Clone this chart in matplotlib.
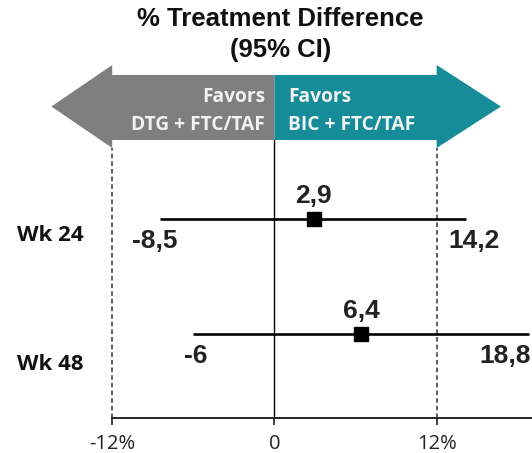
import matplotlib
matplotlib.use('Agg')
import matplotlib.pyplot as plt
from matplotlib.patches import Polygon
import matplotlib.transforms as mtransforms

### Data:
rowLabels = ['Wk 24', 'Wk 48']
pointEstimates = [2.9, 6.4]
lowerCI = [-8.5, -6.0]
upperCI = [14.2, 18.8]
tickValues = [-12, 0, 12]
tickLabels = ['-12%', '0', '12%']

# Label placement tweaks (pixels), to follow the hand-placed labels of the original:
lowDx = [-5, 2]
highDx = [8, -23]
rowLabelDy = [22, 36]

# Figure set-up (dpi 100 so that 1 px = 0.72 pt):
DPI = 100
W, H = 532, 453
PX = 72.0 / DPI
AXIS_Y = 418.3  # px from top

fig = plt.figure(figsize=(W / DPI, H / DPI), dpi=DPI)
ax = fig.add_axes([0, (H - AXIS_Y) / H, 1, AXIS_Y / H])
ax.set_xlim(-20.3, 19.05)
ax.set_ylim(1.736, -1.902)

# Colors:
GRAY = '#7f7f7f'
TEAL = '#158c98'
NUM_FONT = 'Liberation Sans'
TXT_FONT = 'Open Sans'

# Blended transform: x in data, y in axes fraction
trans = mtransforms.blended_transform_factory(ax.transData, ax.transAxes)

def yFrac(px):
    return (AXIS_Y - px) / AXIS_Y

headTop, bodyTop, mid, bodyBot, headBot = yFrac(65), yFrac(75), yFrac(106.5), yFrac(140), yFrac(148)

# Arrows:
leftArrow = Polygon([(0, bodyTop), (-12, bodyTop), (-12, headTop), (-16.5, mid),
                     (-12, headBot), (-12, bodyBot), (0, bodyBot)],
                    closed=True, facecolor=GRAY, edgecolor='none', transform=trans)
rightArrow = Polygon([(0, bodyTop), (12, bodyTop), (12, headTop), (16.75, mid),
                      (12, headBot), (12, bodyBot), (0, bodyBot)],
                     closed=True, facecolor=TEAL, edgecolor='none', transform=trans)
ax.add_patch(leftArrow)
ax.add_patch(rightArrow)

# Arrow texts:
arrowTextStyle = dict(transform=trans, va='center', color='#f2f2f2', fontsize=13.8,
                      fontfamily=TXT_FONT, fontweight='bold')
ax.text(-0.7, yFrac(97), 'Favors', ha='right', **arrowTextStyle)
ax.text(-0.7, yFrac(125.5), 'DTG + FTC/TAF', ha='right', **arrowTextStyle)
ax.text(1.0, yFrac(97), 'Favors', ha='left', **arrowTextStyle)
ax.text(1.0, yFrac(125.5), 'BIC + FTC/TAF', ha='left', **arrowTextStyle)

# Reference lines:
ax.plot([0, 0], [0, bodyBot], transform=trans, color='black', lw=1.0)
for eachX in [-12, 12]:
    ax.plot([eachX, eachX], [0, headBot], transform=trans, color='#333333',
            lw=1.1, linestyle=(0, (3, 2)))

# CI lines + squares + labels:
for i, eachLabel in enumerate(rowLabels):
    ax.plot([lowerCI[i], upperCI[i]], [i, i], color='black', lw=1.9, solid_capstyle='butt', zorder=3)
    ax.plot(pointEstimates[i], i, marker='s', markersize=9.4, color='black', zorder=4)

    ax.annotate(f'{pointEstimates[i]:.1f}'.replace('.', ','), (pointEstimates[i], i),
                xytext=(0, 15.5 * PX), textcoords='offset points', ha='center', va='baseline',
                fontsize=19, fontweight='bold', fontfamily=NUM_FONT, color='#222222')
    ax.annotate(f'{lowerCI[i]:g}'.replace('.', ','), (lowerCI[i], i),
                xytext=(lowDx[i] * PX, -29 * PX), textcoords='offset points', ha='center', va='baseline',
                fontsize=19, fontweight='bold', fontfamily=NUM_FONT, color='#222222')
    ax.annotate(f'{upperCI[i]:g}'.replace('.', ','), (upperCI[i], i),
                xytext=(highDx[i] * PX, -29 * PX), textcoords='offset points', ha='center', va='baseline',
                fontsize=19, fontweight='bold', fontfamily=NUM_FONT, color='#222222')

    # Row label:
    ax.annotate(eachLabel, (16.7 / W, i), xycoords=('figure fraction', 'data'),
                xytext=(0, -rowLabelDy[i] * PX), textcoords='offset points', ha='left', va='baseline',
                fontsize=16, fontweight='bold', fontfamily=TXT_FONT, color='#111111')

# Axis:
for eachSpine in ['top', 'right', 'left']:
    ax.spines[eachSpine].set_visible(False)
ax.spines['bottom'].set_bounds(-12, 19.05)
ax.spines['bottom'].set_linewidth(1.4)
ax.spines['bottom'].set_color('#222222')
ax.set_yticks([])
ax.set_xticks(tickValues)
ax.set_xticklabels(tickLabels, fontsize=14.5, fontfamily=TXT_FONT, color='#222222')
ax.tick_params(axis='x', direction='out', length=5, width=1.2, color='#222222', pad=6)
ax.patch.set_alpha(0)

# Title:
fig.text(280.7 / W, 1 - 19.5 / H, '% Treatment Difference', ha='center', va='center',
         fontsize=18.5, fontweight='bold', fontfamily=NUM_FONT, color='#111111')
fig.text(280.7 / W, 1 - 50 / H, '(95% CI)', ha='center', va='center',
         fontsize=18.5, fontweight='bold', fontfamily=NUM_FONT, color='#111111')

plt.savefig('out.png', dpi=DPI)
plt.close()
